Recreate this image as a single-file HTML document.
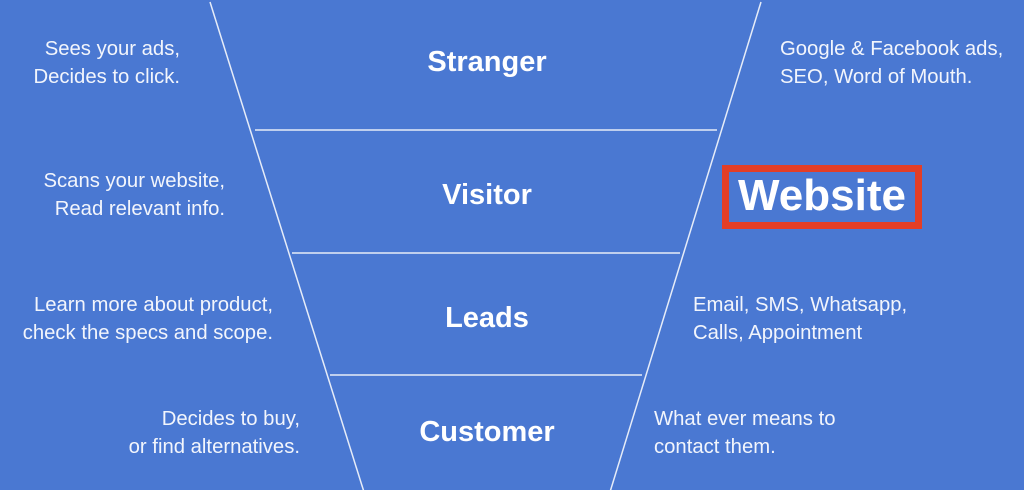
<!DOCTYPE html>
<html><head><meta charset="utf-8"><style>
body{margin:0;width:1024px;height:490px;background:#4a78d2;overflow:hidden;position:relative;font-family:"Liberation Sans",sans-serif;color:#fff}
.t{position:absolute;font-size:20.3px;line-height:28px;color:#f2f5fc;white-space:nowrap}
.r{text-align:right}
.h{position:absolute;font-weight:bold;font-size:29px;width:300px;left:337px;text-align:center;line-height:32px}
svg{position:absolute;left:0;top:0}
.box{position:absolute;left:722px;top:165px;width:186px;height:50px;border:7px solid #e33e27;}
.w{position:absolute;left:722px;top:165px;width:200px;text-align:center;font-weight:bold;font-size:44px;line-height:62px}
</style></head><body>
<svg width="1024" height="490">
<g stroke="#e6ecf8" stroke-width="1.5" fill="none">
<line x1="210" y1="2" x2="364" y2="492"/>
<line x1="761" y1="2" x2="610" y2="492"/>
<line x1="255" y1="130" x2="717" y2="130"/>
<line x1="292" y1="253" x2="680" y2="253"/>
<line x1="330" y1="375" x2="642" y2="375"/>
</g></svg>
<div class="t r" style="right:844px;top:35px">Sees your ads,<br>Decides to click.</div>
<div class="t r" style="right:799px;top:167px">Scans your website,<br>Read relevant info.</div>
<div class="t r" style="right:751px;top:291px">Learn more about product,<br>check the specs and scope.</div>
<div class="t r" style="right:724px;top:405px">Decides to buy,<br>or find alternatives.</div>
<div class="t" style="left:780px;top:35px">Google &amp; Facebook ads,<br>SEO, Word of Mouth.</div>
<div class="t" style="left:693px;top:291px">Email, SMS, Whatsapp,<br>Calls, Appointment</div>
<div class="t" style="left:654px;top:405px">What ever means to<br>contact them.</div>
<div class="h" style="top:46px">Stranger</div>
<div class="h" style="top:179px">Visitor</div>
<div class="h" style="top:302px">Leads</div>
<div class="h" style="top:416px">Customer</div>
<div class="box"></div>
<div class="w">Website</div>
</body></html>
